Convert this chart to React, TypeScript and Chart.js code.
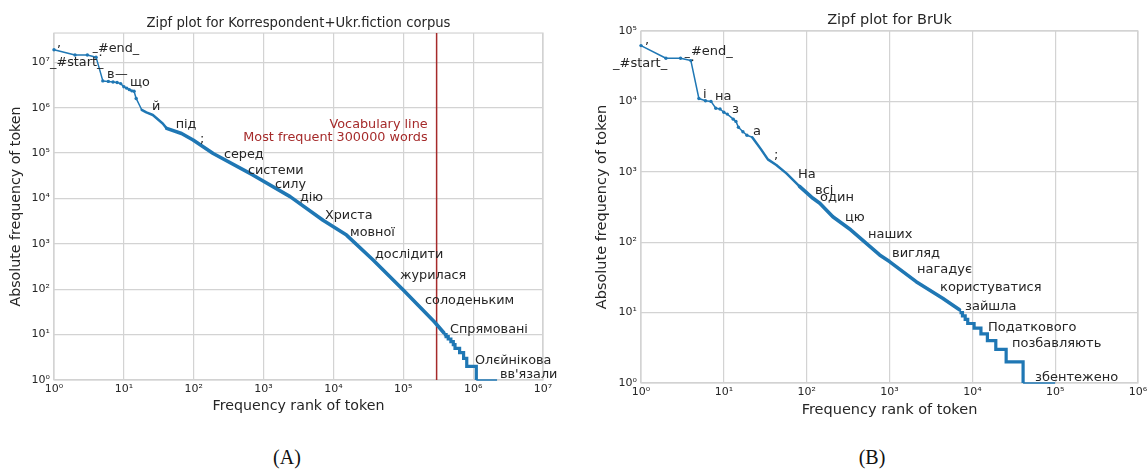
import React, { useEffect, useRef } from 'react';
import { Chart, registerables } from 'chart.js';

Chart.register(...registerables);

// ---------- Panel A: Korrespondent + Ukr.fiction ----------
const A_RANKS = [1, 2, 3, 4, 5, 6, 7, 8, 9, 10, 11, 12, 13, 14, 15, 18, 21, 26, 36, 41, 67, 98, 190, 700, 2400, 7100, 15400, 37000, 100000, 280000, 380000];
const A_FREQS = [1.9e7, 1.45e7, 1.45e7, 1.3e7, 3.9e6, 3.8e6, 3.7e6, 3.6e6, 3.4e6, 2.9e6, 2.7e6, 2.5e6, 2.35e6, 2.3e6, 1.6e6, 9.0e5, 7.9e5, 6.9e5, 4.5e5, 3.5e5, 2.7e5, 1.94e5, 9.8e4, 3.3e4, 1.1e4, 3.3e3, 1.56e3, 440, 96, 19, 11];
const A_TAIL_RANKS = [380000, 410000, 440000, 480000, 520000, 550000, 640000, 730000, 810000, 1110000, 2200000];
const A_TAIL_FREQS = [10, 9, 8, 7, 6, 5, 4, 3, 2, 1, 1];
const A_WORDS = [',', '_#start_', '–.', '#end_', 'в', '—', 'що', 'й', 'під', ';', 'серед', 'системи', 'силу', 'дію', 'Христа', 'мовної', 'дослідити', 'журилася', 'солоденьким', 'Спрямовані', 'Олєйнікова', "вв'язали"];
const A_WORD_RANKS = [1.10, 0.877, 3.50, 4.26, 5.74, 7.47, 12.2, 25.3, 55.2, 123, 271, 598, 1457, 3319, 7568, 17300, 39300, 89700, 205000, 466000, 1060000, 2420000];
const A_WORD_FREQS = [2.17e7, 8.28e6, 1.37e7, 1.68e7, 4.5e6, 4.5e6, 3.0e6, 8.88e5, 3.56e5, 1.66e5, 7.78e4, 3.45e4, 1.70e4, 8.79e3, 3.52e3, 1.49e3, 488, 168, 47.2, 10.8, 2.25, 1.11];
const A_X_TICKS = ['10⁰', '10¹', '10²', '10³', '10⁴', '10⁵', '10⁶', '10⁷'];
const A_Y_TICKS = ['10⁰', '10¹', '10²', '10³', '10⁴', '10⁵', '10⁶', '10⁷'];
const A_X_MAX = 1e7;
const A_Y_MAX = 4.42e7;
const VOCAB_RANK = 300000;
const VOCAB_TEXT = ['Vocabulary line', 'Most frequent 300000 words'];
const VOCAB_TEXT_RANK = 223000;
const VOCAB_TEXT_FREQS = [3.56e5, 1.84e5];

// ---------- Panel B: BrUk ----------
const B_RANKS = [1, 2, 3, 4, 5, 6, 7, 8, 9, 10, 11, 13, 14, 15, 17, 19, 22, 28, 34, 43, 57, 82, 119, 144, 207, 340, 760, 1000, 2100, 4380, 7000];
const B_FREQS = [6.2e4, 4.1e4, 4.1e4, 3.8e4, 1.1e4, 1.02e4, 1.0e4, 8.0e3, 7.8e3, 7.0e3, 6.6e3, 5.6e3, 5.2e3, 4.3e3, 3.7e3, 3.3e3, 3.1e3, 2.1e3, 1.5e3, 1.25e3, 950, 620, 420, 357, 230, 150, 66, 53, 27.5, 16, 11];
const B_TAIL_RANKS = [7000, 7600, 8200, 8800, 10500, 12700, 15200, 19200, 25600, 41000, 100000];
const B_TAIL_FREQS = [10, 9, 8, 7, 6, 5, 4, 3, 2, 1, 1];
const B_WORDS = [',', '_#start_', '–.', '#end_', 'і', 'на', 'з', 'а', ';', 'На', 'всі', 'один', 'цю', 'наших', 'вигляд', 'нагадує', 'користуватися', 'зайшла', 'Податкового', 'позбавляють', 'збентежено'];
const B_WORD_RANKS = [1.118, 0.459, 3.30, 4.01, 5.60, 7.82, 12.55, 22.5, 40.3, 78.6, 126, 145, 290, 550, 1072, 2147, 4074, 8166, 15450, 30100, 57100];
const B_WORD_FREQS = [6.54e4, 3.08e4, 3.75e4, 4.56e4, 1.12e4, 1.047e4, 6.84e3, 3.33e3, 1.52e3, 817, 484, 385, 200, 115, 61.6, 36.5, 20.3, 10.9, 5.48, 3.25, 1.07];
const B_X_TICKS = ['10⁰', '10¹', '10²', '10³', '10⁴', '10⁵', '10⁶'];
const B_Y_TICKS = ['10⁰', '10¹', '10²', '10³', '10⁴', '10⁵'];
const B_X_MAX = 1e6;
const B_Y_MAX = 1e5;

// ---------- styles ----------
const FONT = '"DejaVu Sans", sans-serif';
const TEXT = '#262626';
const GRID = '#d3d3d3';
const BLUE = '#1f77b4';
const BROWN = '#a52a2a';
const CANVAS_W = 574;
const CANVAS_H = 430;

type PanelCfg = {
  ranks: number[]; freqs: number[]; tailRanks: number[]; tailFreqs: number[];
  words: string[]; wordRanks: number[]; wordFreqs: number[];
  xTicks: string[]; yTicks: string[]; xMax: number; yMax: number;
  title: string; titleSize: number; titlePadTop: number; titlePadBottom: number;
  axisSize: number; xTitlePad: number; yTitlePad: number;
  yAxisWidth: number; xAxisHeight: number; padRight: number;
  labelSize: number; thinUntil: number; midUntil: number; vocab: boolean;
};

const PANEL_A: PanelCfg = {
  ranks: A_RANKS, freqs: A_FREQS, tailRanks: A_TAIL_RANKS, tailFreqs: A_TAIL_FREQS,
  words: A_WORDS, wordRanks: A_WORD_RANKS, wordFreqs: A_WORD_FREQS,
  xTicks: A_X_TICKS, yTicks: A_Y_TICKS, xMax: A_X_MAX, yMax: A_Y_MAX,
  title: 'Zipf plot for Korrespondent+Ukr.fiction corpus', titleSize: 13.2, titlePadTop: 15.4, titlePadBottom: 1.8,
  axisSize: 14.2, xTitlePad: 14.9, yTitlePad: 7.6,
  yAxisWidth: 54, xAxisHeight: 50, padRight: 31,
  labelSize: 12.8, thinUntil: 16, midUntil: 40, vocab: true,
};

const PANEL_B: PanelCfg = {
  ranks: B_RANKS, freqs: B_FREQS, tailRanks: B_TAIL_RANKS, tailFreqs: B_TAIL_FREQS,
  words: B_WORDS, wordRanks: B_WORD_RANKS, wordFreqs: B_WORD_FREQS,
  xTicks: B_X_TICKS, yTicks: B_Y_TICKS, xMax: B_X_MAX, yMax: B_Y_MAX,
  title: 'Zipf plot for BrUk', titleSize: 14.5, titlePadTop: 11.9, titlePadBottom: 1.7,
  axisSize: 14.5, xTitlePad: 11.3, yTitlePad: 19.3,
  yAxisWidth: 67, xAxisHeight: 47, padRight: 10,
  labelSize: 13, thinUntil: 20, midUntil: 60, vocab: false,
};

function buildChart(canvas: HTMLCanvasElement, p: PanelCfg) {
  const main = p.ranks.map((r, i) => ({ x: r, y: p.freqs[i] }));
  const tail = p.tailRanks.map((r, i) => ({ x: r, y: p.tailFreqs[i] }));
  const datasets: any[] = [
    {
      data: main,
      borderColor: BLUE,
      backgroundColor: BLUE,
      clip: false,
      borderJoinStyle: 'round',
      borderCapStyle: 'round',
      pointRadius: (c: any) => (c.raw && c.raw.x < p.thinUntil ? 1.7 : 0),
      pointBorderWidth: 0,
      segment: {
        borderWidth: (c: any) => (c.p0.parsed.x < p.thinUntil ? 1.5 : c.p0.parsed.x < p.midUntil ? 2.5 : 3.6),
      },
    },
    {
      data: tail,
      stepped: 'before',
      borderColor: BLUE,
      backgroundColor: BLUE,
      clip: false,
      pointRadius: 0,
      segment: {
        borderWidth: (c: any) => (c.p0.parsed.y <= 1 ? 1.5 : 3.2),
      },
    },
  ];
  if (p.vocab) {
    datasets.push({
      data: [{ x: VOCAB_RANK, y: 1 }, { x: VOCAB_RANK, y: p.yMax }],
      borderColor: BROWN,
      borderWidth: 1.5,
      pointRadius: 0,
      clip: false,
    });
  }

  const deco = {
    id: 'deco',
    beforeDatasetsDraw(chart: any) {
      const { ctx, chartArea: a } = chart;
      ctx.save();
      ctx.strokeStyle = GRID;
      ctx.lineWidth = 1.2;
      ctx.strokeRect(a.left, a.top, a.right - a.left, a.bottom - a.top);
      ctx.restore();
    },
    afterDatasetsDraw(chart: any) {
      const { ctx } = chart;
      const xs = chart.scales.x;
      const ys = chart.scales.y;
      ctx.save();
      ctx.font = `${p.labelSize}px ${FONT}`;
      ctx.fillStyle = TEXT;
      ctx.textAlign = 'left';
      ctx.textBaseline = 'alphabetic';
      p.words.forEach((w, i) => {
        ctx.fillText(w, xs.getPixelForValue(p.wordRanks[i]), ys.getPixelForValue(p.wordFreqs[i]));
      });
      if (p.vocab) {
        ctx.fillStyle = BROWN;
        ctx.textAlign = 'right';
        VOCAB_TEXT.forEach((t, i) => {
          ctx.fillText(t, xs.getPixelForValue(VOCAB_TEXT_RANK), ys.getPixelForValue(VOCAB_TEXT_FREQS[i]));
        });
      }
      ctx.restore();
    },
  };

  const tickFont = { family: FONT, size: 11 };
  return new Chart(canvas, {
    type: 'line',
    data: { datasets },
    plugins: [deco],
    options: {
      responsive: false,
      animation: false,
      events: [],
      layout: { padding: { left: 0, right: p.padRight, top: 0, bottom: 0 } },
      plugins: {
        legend: { display: false },
        tooltip: { enabled: false },
        title: {
          display: true,
          text: p.title,
          fullSize: false,
          color: TEXT,
          font: { family: FONT, size: p.titleSize, weight: 'normal' },
          padding: { top: p.titlePadTop, bottom: p.titlePadBottom },
        },
      },
      scales: {
        x: {
          type: 'logarithmic',
          min: 1,
          max: p.xMax,
          afterBuildTicks: (s: any) => { s.ticks = p.xTicks.map((_, i) => ({ value: Math.pow(10, i) })); },
          afterFit: (s: any) => { s.height = p.xAxisHeight; s.paddingLeft = 0; s.paddingRight = 0; },
          ticks: { autoSkip: false, maxRotation: 0, minRotation: 0, padding: 3, color: TEXT, font: tickFont, callback: (_v: any, i: number) => p.xTicks[i] },
          grid: { color: GRID, lineWidth: 1.2, drawTicks: false },
          border: { display: false },
          title: { display: true, text: 'Frequency rank of token', color: TEXT, font: { family: FONT, size: p.axisSize }, padding: { top: 0, bottom: p.xTitlePad } },
        },
        y: {
          type: 'logarithmic',
          min: 1,
          max: p.yMax,
          afterBuildTicks: (s: any) => { s.ticks = p.yTicks.map((_, i) => ({ value: Math.pow(10, i) })); },
          afterFit: (s: any) => { s.width = p.yAxisWidth; s.paddingTop = 0; s.paddingBottom = 0; },
          ticks: { autoSkip: false, padding: 4, color: TEXT, font: tickFont, callback: (_v: any, i: number) => p.yTicks[i] },
          grid: { color: GRID, lineWidth: 1.2, drawTicks: false },
          border: { display: false },
          title: { display: true, text: 'Absolute frequency of token', color: TEXT, font: { family: FONT, size: p.axisSize }, padding: { top: p.yTitlePad, bottom: 0 } },
        },
      },
    } as any,
  });
}

function ZipfPanel({ cfg, left }: { cfg: PanelCfg; left: number }) {
  const ref = useRef<HTMLCanvasElement>(null);
  useEffect(() => {
    if (!ref.current) return;
    const chart = buildChart(ref.current, cfg);
    return () => chart.destroy();
  }, [cfg]);
  return (
    <canvas
      ref={ref}
      width={CANVAS_W}
      height={CANVAS_H}
      style={{ position: 'absolute', left, top: 0, width: CANVAS_W, height: CANVAS_H }}
    />
  );
}

const captionStyle: React.CSSProperties = {
  position: 'absolute',
  top: 447,
  width: 60,
  textAlign: 'center',
  fontFamily: '"Liberation Serif", "DejaVu Serif", serif',
  fontSize: 20,
  lineHeight: '20px',
  color: '#111',
};

export default function App() {
  return (
    <div style={{ position: 'absolute', left: 0, top: 0, width: 1148, height: 469, background: '#fff', overflow: 'hidden' }}>
      <ZipfPanel cfg={PANEL_A} left={0} />
      <ZipfPanel cfg={PANEL_B} left={CANVAS_W} />
      <div style={{ ...captionStyle, left: 287 - 30 }}>(A)</div>
      <div style={{ ...captionStyle, left: 872 - 30 }}>(B)</div>
    </div>
  );
}
